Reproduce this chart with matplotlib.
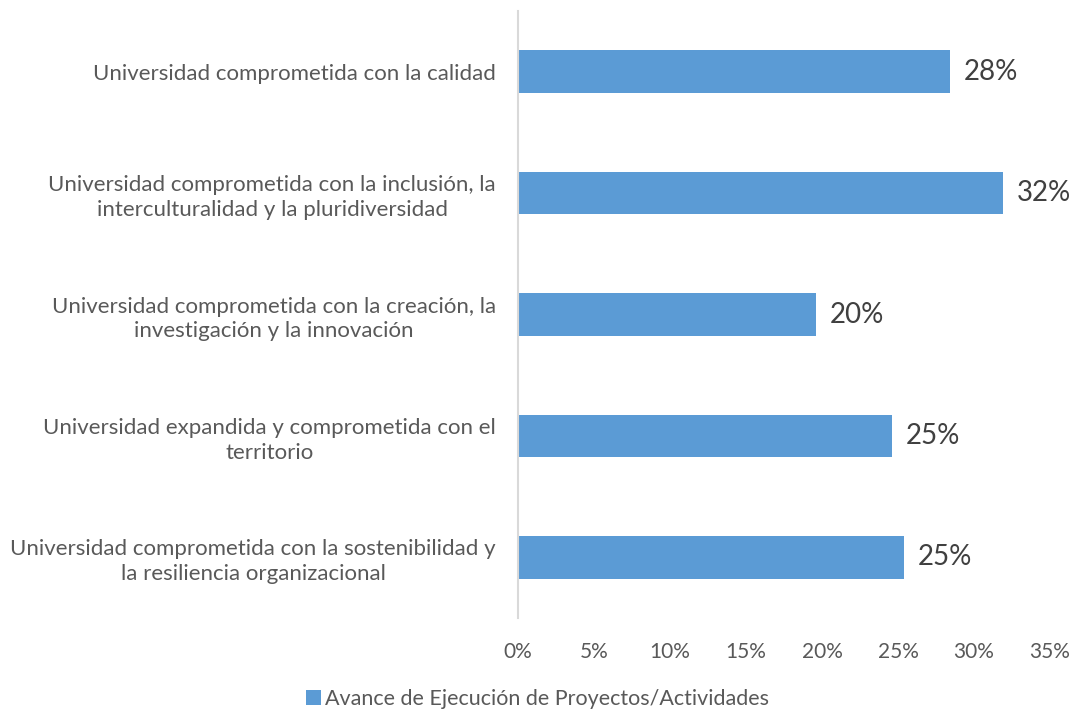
import matplotlib
matplotlib.use("Agg")
import matplotlib.pyplot as plt
from matplotlib.patches import Patch
from matplotlib.ticker import FuncFormatter, MultipleLocator

categories = [
    "Universidad comprometida con la calidad",
    "Universidad comprometida con la inclusión, la\ninterculturalidad y la pluridiversidad",
    "Universidad comprometida con la creación, la\ninvestigación y la innovación",
    "Universidad expandida y comprometida con el\nterritorio",
    "Universidad comprometida con la sostenibilidad y\nla resiliencia organizacional",
]
values = [28.4, 31.9, 19.6, 24.6, 25.4]
value_labels = ["28%", "32%", "20%", "25%", "25%"]
series_name = "Avance de Ejecución de Proyectos/Actividades"

plt.rcParams["font.family"] = ["Lato", "DejaVu Sans"]

bar_color = "#5B9BD5"
text_gray = "#595959"

fig = plt.figure(figsize=(10.75, 7.13), dpi=100)
ax = fig.add_axes([0.482, 0.1332, 0.4948, 0.8514])

y = list(range(len(categories)))
ax.barh(y, values, height=0.35, color=bar_color)
ax.set_ylim(len(categories) - 0.5, -0.5)
ax.set_xlim(0, 35)
ax.xaxis.set_major_locator(MultipleLocator(5))
ax.xaxis.set_major_formatter(FuncFormatter(lambda v, p: f"{int(round(v))}%"))

ax.set_yticks(y)
ax.set_yticklabels(categories, ha="right", multialignment="center", linespacing=1.3)
ax.tick_params(axis="y", length=0, pad=16, labelsize=16, labelcolor=text_gray)
ax.tick_params(axis="x", length=0, pad=17, labelsize=15, labelcolor=text_gray)

for s in ["top", "right", "bottom"]:
    ax.spines[s].set_visible(False)
ax.spines["left"].set_color("#D9D9D9")
ax.spines["left"].set_linewidth(1.5)

for yi, v, lab in zip(y, values, value_labels):
    ax.annotate(lab, xy=(v, yi), xytext=(10, 0), textcoords="offset points",
                ha="left", va="center", fontsize=20, color="#404040")

handle = Patch(facecolor=bar_color, edgecolor="none")
fig.legend([handle], [series_name], loc="center", bbox_to_anchor=(0.5, 1 - 699 / 713),
           frameon=False, fontsize=15.5, labelcolor=text_gray,
           handlelength=0.7, handleheight=0.7, handletextpad=0.2)

fig.savefig("out.png", dpi=100)
